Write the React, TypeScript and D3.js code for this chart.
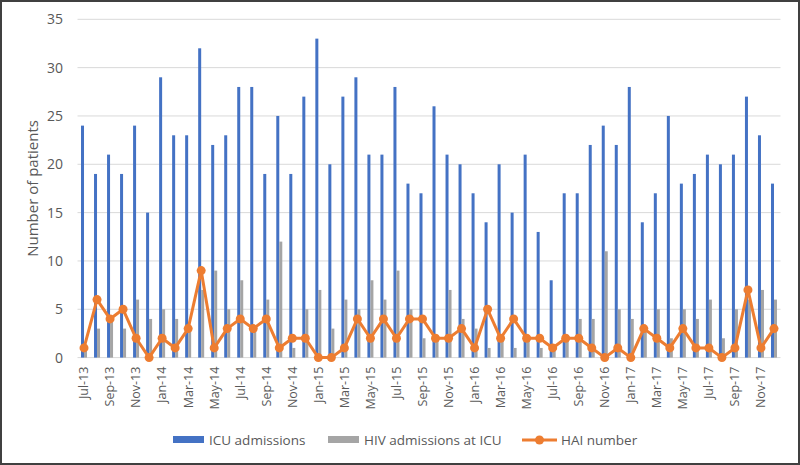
import React from "react";
import * as d3 from "d3";

const months = ["Jan","Feb","Mar","Apr","May","Jun","Jul","Aug","Sep","Oct","Nov","Dec"];
const categories: string[] = [];
for (let y = 13; y <= 17; y++) {
  for (let m = 0; m < 12; m++) {
    if (y === 13 && m < 6) continue;
    categories.push(`${months[m]}-${y}`);
  }
}

const icuAdmissions = [
  24, 19, 21, 19, 24, 15,
  29, 23, 23, 32, 22, 23, 28, 28, 19, 25, 19, 27,
  33, 20, 27, 29, 21, 21, 28, 18, 17, 26, 21, 20,
  17, 14, 20, 15, 21, 13, 8, 17, 17, 22, 24, 22,
  28, 14, 17, 25, 18, 19, 21, 20, 21, 27, 23, 18,
];
const hivAdmissions = [
  1, 3, 4, 3, 6, 4,
  5, 4, 3, 7, 9, 5, 8, 3, 6, 12, 1, 5,
  7, 3, 6, 5, 8, 6, 9, 5, 2, 2, 7, 4,
  3, 1, 2, 1, 2, 1, 1, 2, 4, 4, 11, 5,
  4, 3, 5, 2, 5, 4, 6, 2, 5, 6, 7, 6,
];
const haiNumber = [
  1, 6, 4, 5, 2, 0,
  2, 1, 3, 9, 1, 3, 4, 3, 4, 1, 2, 2,
  0, 0, 1, 4, 2, 4, 2, 4, 4, 2, 2, 3,
  1, 5, 2, 4, 2, 2, 1, 2, 2, 1, 0, 1,
  0, 3, 2, 1, 3, 1, 1, 0, 1, 7, 1, 3,
];
const yTicks = [0, 5, 10, 15, 20, 25, 30, 35];
const seriesNames = ["ICU admissions", "HIV admissions at ICU", "HAI number"];

const W = 800, H = 465;
const left = 77.5, right = 780.5, top = 19.3, bottom = 357.6;
const BLUE = "#4472C4", GRAY = "#A5A5A5", ORANGE = "#ED7D31";
const FONT = "'Open Sans', 'Noto Sans', sans-serif";
const TXT = "#595959";

export default function App() {
  const x = d3.scaleBand<string>().domain(categories).range([left, right]).paddingInner(0).paddingOuter(0);
  const bw = x.bandwidth();
  const barW = 3;
  const y = d3.scaleLinear().domain([0, 35]).range([bottom, top]);
  const cx = (c: string) => (x(c) as number) + bw / 2;
  const line = d3.line<number>().x((_, i) => cx(categories[i])).y((d) => y(d));

  return (
    <div style={{ position: "absolute", left: 0, top: 0 }}>
      <svg width={W} height={H} style={{ display: "block", fontFamily: FONT }}>
        <rect x={0} y={0} width={W} height={H} fill="#fff" />
        {yTicks.map((t) => (
          <g key={t}>
            <line x1={left} x2={right} y1={y(t)} y2={y(t)} stroke="#D9D9D9" strokeWidth={1} />
            <text x={63} y={y(t)} dy="0.35em" textAnchor="end" fontSize={14} fill={TXT}>{t}</text>
          </g>
        ))}
        <text transform={`translate(33,${(top + bottom) / 2}) rotate(-90)`} textAnchor="middle" dy="0.35em" fontSize={15} fill={TXT}>
          Number of patients
        </text>
        {categories.map((c, i) => (
          <g key={c}>
            <rect x={cx(c) - barW} y={y(icuAdmissions[i])} width={barW} height={y(0) - y(icuAdmissions[i])} fill={BLUE} />
            <rect x={cx(c)} y={y(hivAdmissions[i])} width={barW} height={y(0) - y(hivAdmissions[i])} fill={GRAY} />
          </g>
        ))}
        <path d={line(haiNumber) as string} fill="none" stroke={ORANGE} strokeWidth={3} strokeLinejoin="round" />
        {haiNumber.map((v, i) => (
          <circle key={i} cx={cx(categories[i])} cy={y(v)} r={4.5} fill={ORANGE} />
        ))}
        {categories.map((c, i) =>
          i % 2 === 0 ? (
            <text key={c} transform={`translate(${cx(c)},${bottom + 9}) rotate(-90)`} textAnchor="end" dy="0.35em" fontSize={12.5} fill={TXT}>
              {c}
            </text>
          ) : null
        )}
        {/* legend */}
        <rect x={173} y={436} width={31} height={7} fill={BLUE} />
        <text x={209} y={440} dy="0.35em" fontSize={13.5} fill={TXT}>{seriesNames[0]}</text>
        <rect x={328} y={436} width={31} height={7} fill={GRAY} />
        <text x={364} y={440} dy="0.35em" fontSize={13.5} fill={TXT}>{seriesNames[1]}</text>
        <line x1={522} x2={557} y1={440} y2={440} stroke={ORANGE} strokeWidth={3} />
        <circle cx={539.5} cy={440} r={4.5} fill={ORANGE} />
        <text x={561} y={440} dy="0.35em" fontSize={13.5} fill={TXT}>{seriesNames[2]}</text>
        <rect x={1} y={1} width={W - 2} height={H - 2} fill="none" stroke="#404040" strokeWidth={2} />
      </svg>
    </div>
  );
}
